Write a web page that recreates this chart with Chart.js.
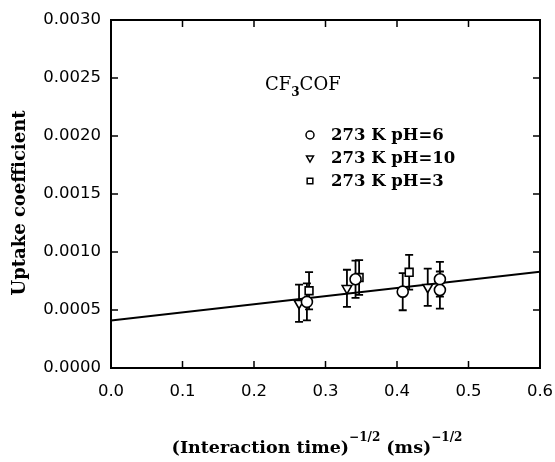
<!DOCTYPE html>
<html>
<head>
<meta charset="utf-8">
<script src="https://cdn.jsdelivr.net/npm/chart.js@4/dist/chart.umd.min.js"></script>
<style>
  html, body { margin: 0; padding: 0; background: #fff; }
  #wrap { width: 555px; height: 462px; }
</style>
</head>
<body>
<div id="wrap"><canvas id="chart"></canvas></div>
<script>
// pH=6 (circles)
const ph6X = [0.274, 0.342, 0.408, 0.460, 0.460];
const ph6Y = [0.00057, 0.000765, 0.000658, 0.000765, 0.000672];
const ph6Err = [0.00016, 0.00016, 0.00016, 0.00015, 0.00016];
// pH=10 (triangles)
const ph10X = [0.263, 0.330, 0.443];
const ph10Y = [0.000558, 0.000687, 0.000696];
const ph10Err = [0.00016, 0.00016, 0.00016];
// pH=3 (squares)
const ph3X = [0.277, 0.347, 0.417];
const ph3Y = [0.000666, 0.00078, 0.000825];
const ph3Err = [0.00016, 0.00015, 0.00015];
// fitted line
const fitX = [0.0, 0.6];
const fitY = [0.00041, 0.00083];

const xTicks = [0, 0.1, 0.2, 0.3, 0.4, 0.5, 0.6];
const yTicks = [0, 0.0005, 0.001, 0.0015, 0.002, 0.0025, 0.003];

const legendLabels = ['273 K pH=6', '273 K pH=10', '273 K pH=3'];

const pts = (xs, ys, es) => xs.map((x, i) => ({ x: x, y: ys[i], e: es ? es[i] : 0 }));

const serif = '"DejaVu Serif", serif';
const sans = '"DejaVu Sans", sans-serif';

const marker = (style, rot) => ({
  type: 'scatter',
  pointStyle: style,
  rotation: rot,
  pointRadius: 5.5,
  pointBorderWidth: 1.6,
  pointBackgroundColor: '#fff',
  pointBorderColor: '#000',
  showLine: false
});

const datasets = [
  Object.assign({ label: legendLabels[0], data: pts(ph6X, ph6Y, ph6Err), errBars: true }, marker('circle', 0)),
  Object.assign({ label: legendLabels[1], data: pts(ph10X, ph10Y, ph10Err), errBars: true }, marker('triangle', 180)),
  Object.assign({ label: legendLabels[2], data: pts(ph3X, ph3Y, ph3Err), errBars: true }, marker('rect', 0)),
  {
    type: 'line', label: 'fit', data: pts(fitX, fitY),
    borderColor: '#000', borderWidth: 2, pointRadius: 0, fill: false
  }
];

const decor = {
  id: 'decor',
  beforeDatasetsDraw(chart) {
    const ctx = chart.ctx, xs = chart.scales.x, ys = chart.scales.y;
    ctx.save();
    ctx.strokeStyle = '#000';
    ctx.lineWidth = 1.8;
    chart.data.datasets.forEach(ds => {
      if (!ds.errBars) return;
      ds.data.forEach(p => {
        const px = xs.getPixelForValue(p.x);
        const top = ys.getPixelForValue(p.y + p.e);
        const bot = ys.getPixelForValue(p.y - p.e);
        ctx.beginPath();
        ctx.moveTo(px, top); ctx.lineTo(px, bot);
        ctx.moveTo(px - 4, top); ctx.lineTo(px + 4, top);
        ctx.moveTo(px - 4, bot); ctx.lineTo(px + 4, bot);
        ctx.stroke();
      });
    });
    ctx.restore();
  },
  afterDraw(chart) {
    const ctx = chart.ctx, a = chart.chartArea, xs = chart.scales.x, ys = chart.scales.y;
    ctx.save();
    ctx.strokeStyle = '#000';
    ctx.lineWidth = 2;
    ctx.strokeRect(a.left, a.top, a.right - a.left, a.bottom - a.top);
    ctx.lineWidth = 1.5;
    ctx.beginPath();
    xTicks.forEach(v => {
      const px = xs.getPixelForValue(v);
      ctx.moveTo(px, a.bottom); ctx.lineTo(px, a.bottom - 7);
      ctx.moveTo(px, a.top); ctx.lineTo(px, a.top + 7);
    });
    yTicks.forEach(v => {
      const py = ys.getPixelForValue(v);
      ctx.moveTo(a.left, py); ctx.lineTo(a.left + 7, py);
      ctx.moveTo(a.right, py); ctx.lineTo(a.right - 7, py);
    });
    ctx.stroke();

    // compound label
    ctx.fillStyle = '#000';
    ctx.textBaseline = 'middle';
    ctx.textAlign = 'left';
    ctx.font = '18px ' + serif;
    let tx = 265;
    ctx.fillText('CF', tx, 85); tx += ctx.measureText('CF').width;
    ctx.font = 'bold 12px ' + serif;
    ctx.fillText('3', tx, 93); tx += ctx.measureText('3').width;
    ctx.font = '18px ' + serif;
    ctx.fillText('COF', tx, 85);

    // legend
    const styles = [['circle', 0], ['triangle', 180], ['rect', 0]];
    const rows = [135, 158, 181];
    ctx.font = 'bold 16.5px ' + serif;
    legendLabels.forEach((t, i) => {
      ctx.fillStyle = '#fff';
      ctx.strokeStyle = '#000';
      Chart.helpers.drawPoint(ctx, {
        pointStyle: styles[i][0], rotation: styles[i][1], radius: 4,
        borderWidth: i === 2 ? 2.8 : 1.6
      }, 310, rows[i]);
      ctx.fillStyle = '#000';
      ctx.fillText(t, 331, rows[i] + 1);
    });

    // y title
    ctx.save();
    ctx.translate(20, 203);
    ctx.rotate(-Math.PI / 2);
    ctx.textAlign = 'center';
    ctx.font = 'bold 18px ' + serif;
    ctx.fillText('Uptake coefficient', 0, 0);
    ctx.restore();

    // x title with superscripts
    const parts = [
      ['(Interaction time)', 'bold 17.5px ', 0],
      ['\u22121/2', 'bold 12px ', -10],
      [' (ms)', 'bold 17.5px ', 0],
      ['\u22121/2', 'bold 12px ', -10]
    ];
    let w = 0;
    parts.forEach(p => { ctx.font = p[1] + serif; w += ctx.measureText(p[0]).width; });
    let x0 = 317 - w / 2;
    parts.forEach(p => {
      ctx.font = p[1] + serif;
      ctx.fillText(p[0], x0, 448 + p[2]);
      x0 += ctx.measureText(p[0]).width;
    });
    ctx.restore();
  }
};

new Chart(document.getElementById('chart'), {
  type: 'scatter',
  data: { datasets: datasets },
  options: {
    responsive: true,
    maintainAspectRatio: false,
    animation: false,
    layout: { padding: { top: 20, right: 15, left: 0, bottom: 0 } },
    plugins: { legend: { display: false }, tooltip: { enabled: false } },
    scales: {
      x: {
        type: 'linear', min: 0, max: 0.6,
        afterFit(s) { s.height = 94; s.paddingLeft = 0; s.paddingRight = 0; },
        afterBuildTicks(s) { s.ticks = xTicks.map(v => ({ value: v })); },
        grid: { display: false, drawTicks: false },
        border: { display: false },
        ticks: {
          color: '#000', padding: 14, maxRotation: 0,
          font: { family: sans, size: 16.5 },
          callback: v => v.toFixed(1)
        }
      },
      y: {
        type: 'linear', min: 0, max: 0.003,
        afterFit(s) { s.width = 111; s.paddingTop = 0; s.paddingBottom = 0; },
        afterBuildTicks(s) { s.ticks = yTicks.map(v => ({ value: v })); },
        grid: { display: false, drawTicks: false },
        border: { display: false },
        ticks: {
          color: '#000', padding: 10,
          font: { family: sans, size: 16.5 },
          callback: v => v.toFixed(4)
        }
      }
    }
  },
  plugins: [decor]
});
</script>
</body>
</html>
